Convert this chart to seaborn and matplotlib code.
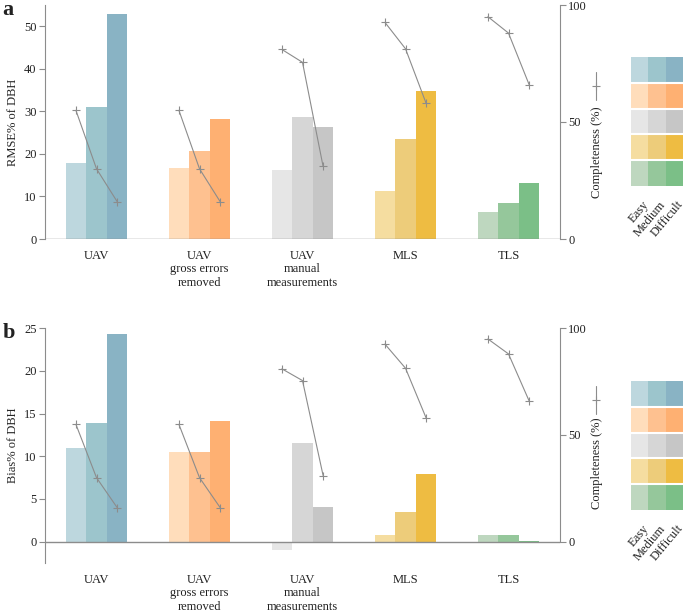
import numpy as np
import pandas as pd
import seaborn as sns
import matplotlib.pyplot as plt
from matplotlib.colors import ListedColormap
from matplotlib.lines import Line2D
from matplotlib.transforms import ScaledTranslation

methods = ['UAV', 'UAV\ngross errors\nremoved', 'UAV\nmanual\nmeasurements', 'MLS', 'TLS']
levels = ['Easy', 'Medium', 'Difficult']

rmse = [[17.8, 31.1, 53.0],
        [16.6, 20.7, 28.2],
        [16.2, 28.6, 26.4],
        [11.2, 23.4, 34.7],
        [6.3, 8.5, 13.1]]
bias = [[11.0, 13.9, 24.3],
        [10.5, 10.5, 14.1],
        [-1.0, 11.6, 4.1],
        [0.8, 3.5, 7.9],
        [0.8, 0.8, 0.1]]
completeness = [[55.0, 30.0, 16.0],
                [55.0, 30.0, 16.0],
                [81.0, 75.5, 31.0],
                [92.6, 81.3, 58.0],
                [95.0, 88.0, 66.0]]

colors = [['#bdd7de', '#9cc5cc', '#89b3c4'],
          ['#ffddbb', '#fec190', '#feb072'],
          ['#e6e6e6', '#d6d6d6', '#c6c6c6'],
          ['#f5dda0', '#edcc7a', '#eebc42'],
          ['#bed7bf', '#95c79b', '#7bbf87']]

GREY = '#8c8c8c'
FS = 9

sns.set_style('white')
plt.rcParams['font.family'] = ['Liberation Serif', 'DejaVu Serif']
plt.rcParams['font.size'] = FS
plt.rcParams['text.color'] = '#222222'
plt.rcParams['xtick.labelcolor'] = '#222222'
plt.rcParams['ytick.labelcolor'] = '#222222'


def panel(fig, rect, values, ylabel, ylim, yticks, rlim, letter, grid_rect, lab_y, glyph_y):
    ax = fig.add_axes(rect)
    df = pd.DataFrame([(m, l, values[i][j]) for i, m in enumerate(methods)
                       for j, l in enumerate(levels)],
                      columns=['method', 'level', 'value'])
    sns.barplot(data=df, x='method', y='value', hue='level', order=methods,
                hue_order=levels, width=0.6, saturation=1, legend=False,
                errorbar=None, ax=ax, palette=['#cccccc'] * 3)
    # each group gets its own colour ramp
    for j, cont in enumerate(ax.containers):
        for i, bar in enumerate(cont):
            bar.set_facecolor(colors[i][j])
            bar.set_edgecolor('none')
    ax.set_xlim(-0.5, 4.5)
    ax.set_ylim(*ylim)
    ax.set_yticks(yticks)
    ax.set_xlabel('')
    ax.set_ylabel(ylabel, fontsize=FS)
    ax.axhline(0, color=GREY, lw=1)
    for s in ['top', 'right', 'bottom']:
        ax.spines[s].set_visible(False)
    ax.spines['left'].set_color(GREY)
    ax.spines['left'].set_bounds(ylim[0], ylim[1])
    ax.tick_params(axis='y', length=4, color=GREY, pad=2, labelsize=FS)
    ax.tick_params(axis='x', length=0, pad=8, labelsize=FS)
    for t in ax.get_xticklabels():
        t.set_linespacing(1.15)
        t.set_va('top')

    ax2 = ax.twinx()
    offs = [-0.2, 0.0, 0.2]
    for i in range(len(methods)):
        ax2.plot([i + o for o in offs], completeness[i], color=GREY, lw=0.8,
                 marker='+', ms=6, mew=0.8)
    ax2.set_ylim(*rlim)
    ax2.set_yticks([0, 50, 100])
    for s in ['top', 'left', 'bottom']:
        ax2.spines[s].set_visible(False)
    ax2.spines['right'].set_color(GREY)
    ax2.spines['right'].set_bounds(0, 100)
    ax2.tick_params(axis='y', length=4, color=GREY, pad=2, labelsize=FS)
    ax2.grid(False)

    fig.text(597 / 685, lab_y, 'Completeness (%)', rotation=90,
             ha='center', va='center', fontsize=FS)
    gx = 596 / 685
    fig.add_artist(Line2D([gx, gx], [glyph_y - 0.023, glyph_y + 0.023],
                          transform=fig.transFigure, color=GREY, lw=0.8))
    fig.add_artist(Line2D([gx], [glyph_y], transform=fig.transFigure,
                          color=GREY, marker='+', ms=6, mew=0.8))

    fig.text(0.004, rect[1] + rect[3] + 0.008, letter, fontsize=16,
             fontweight='bold', va='top', ha='left')

    # colour key
    gax = fig.add_axes(grid_rect)
    cmap = ListedColormap([c for row in colors for c in row])
    sns.heatmap(np.arange(15).reshape(5, 3), cmap=cmap, cbar=False,
                linewidths=0, xticklabels=levels,
                yticklabels=False, ax=gax, vmin=-0.5, vmax=14.5)
    for k in range(1, 5):
        gax.axhline(k, color='white', lw=1.5)
    gax.tick_params(axis='x', length=0, pad=9, labelsize=FS)
    shift = ScaledTranslation(1.5 / 72, 0, fig.dpi_scale_trans)
    for t in gax.get_xticklabels():
        t.set_rotation(50)
        t.set_ha('right')
        t.set_rotation_mode('anchor')
        t.set_transform(t.get_transform() + shift)
    return ax


fig = plt.figure(figsize=(6.85, 6.13), dpi=100)

panel(fig, [45 / 685, 1 - 239 / 613, 515 / 685, 234 / 613], rmse,
      'RMSE% of DBH', (0, 55), [0, 10, 20, 30, 40, 50], (0, 100), 'a',
      [631 / 685, 1 - 186 / 613, 52 / 685, 129 / 613],
      1 - 152 / 613, 1 - 86 / 613)

panel(fig, [45 / 685, 1 - 563 / 613, 515 / 685, 234.7 / 613], bias,
      'Bias% of DBH', (-2.5, 25), [0, 5, 10, 15, 20, 25], (-10, 100), 'b',
      [631 / 685, 1 - 510 / 613, 52 / 685, 129 / 613],
      1 - 463 / 613, 1 - 400 / 613)

fig.savefig('out.png', dpi=100)
